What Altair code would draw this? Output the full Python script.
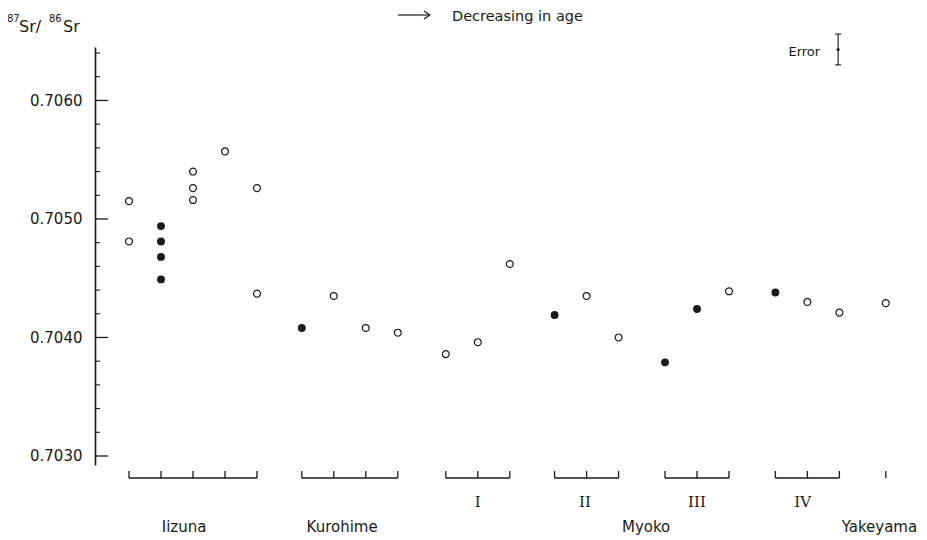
import altair as alt
import pandas as pd

# ---- data ----
# sample positions (slot units along the age sequence), 87Sr/86Sr, symbol kind
pt_x = [0, 0, 1, 1, 1, 1, 2, 2, 2, 3, 4, 4,
        5.4, 6.4, 7.4, 8.4,
        9.9, 10.9, 11.9,
        13.3, 14.3, 15.3,
        16.75, 17.75, 18.75,
        20.2, 21.2, 22.2,
        23.65]
pt_y = [0.70515, 0.70481, 0.70494, 0.70481, 0.70468, 0.70449, 0.70540, 0.70526, 0.70516, 0.70557, 0.70526, 0.70437,
        0.70408, 0.70435, 0.70408, 0.70404,
        0.70386, 0.70396, 0.70462,
        0.70419, 0.70435, 0.70400,
        0.70379, 0.70424, 0.70439,
        0.70438, 0.70430, 0.70421,
        0.70429]
pt_kind = ["open", "open", "filled", "filled", "filled", "filled", "open", "open", "open", "open", "open", "open",
           "filled", "open", "open", "open",
           "open", "open", "open",
           "filled", "open", "open",
           "filled", "filled", "open",
           "filled", "open", "open",
           "open"]

bracket_names = ["Iizuna", "Kurohime", "I", "II", "III", "IV", "Yakeyama"]
bracket_pos = [[0, 1, 2, 3, 4], [5.4, 6.4, 7.4, 8.4], [9.9, 10.9, 11.9],
               [13.3, 14.3, 15.3], [16.75, 17.75, 18.75], [20.2, 21.2, 22.2], [23.65]]

sub_labels = ["I", "II", "III", "IV"]
sub_x = [10.9, 14.25, 17.75, 21.05]
region_labels = ["Iizuna", "Kurohime", "Myoko", "Yakeyama"]
region_x = [1.72, 6.66, 16.16, 23.45]

major_ticks = [0.7030, 0.7040, 0.7050, 0.7060]
minor_ticks = [0.7032, 0.7034, 0.7036, 0.7038, 0.7042, 0.7044, 0.7046, 0.7048,
               0.7052, 0.7054, 0.7056, 0.7058, 0.7062, 0.7064]

err_x = [22.16]
err_center = [0.70643]
err_lo = [0.70630]
err_hi = [0.70656]

# ---- tables ----
pts = pd.DataFrame({"x": pt_x, "y": pt_y, "kind": pt_kind})
open_df = pts[pts["kind"] == "open"]
filled_df = pts[pts["kind"] == "filled"]
br_lines = pd.DataFrame({"name": bracket_names,
                         "start": [p[0] for p in bracket_pos],
                         "end": [p[-1] for p in bracket_pos]})
br_ticks = pd.DataFrame({"pos": [v for p in bracket_pos for v in p]})
subs = pd.DataFrame({"x": sub_x, "label": sub_labels})
regions = pd.DataFrame({"x": region_x, "label": region_labels})
majors = pd.DataFrame({"v": major_ticks})
minors = pd.DataFrame({"v": minor_ticks})
err = pd.DataFrame({"x": err_x, "c": err_center, "lo": err_lo, "hi": err_hi})
one = pd.DataFrame({"t": ["Decreasing in age"]})

XS = alt.Scale(domain=[-1.0625, 24.5625], nice=False, zero=False)
YS = alt.Scale(domain=[0.702924, 0.706451], nice=False, zero=False)
INK = "#1a1a1a"
FONT = "DejaVu Sans"

base_axis = alt.Axis(values=major_ticks, format=".4f", ticks=False, tickSize=0, grid=False,
                     domainColor=INK, domainWidth=1.6, labelFont=FONT, labelFontSize=15,
                     labelColor=INK, labelPadding=13, title=None)

open_pts = alt.Chart(open_df).mark_point(
    shape="circle", filled=False, color=INK, strokeWidth=1.2, size=48, opacity=1
).encode(x=alt.X("x:Q", scale=XS, axis=None), y=alt.Y("y:Q", scale=YS, axis=base_axis))

filled_pts = alt.Chart(filled_df).mark_circle(
    color=INK, size=62, opacity=1
).encode(x=alt.X("x:Q", scale=XS, axis=None), y=alt.Y("y:Q", scale=YS, axis=base_axis))

major_rules = alt.Chart(majors).mark_rule(color=INK, strokeWidth=1.3).encode(
    y=alt.Y("v:Q", scale=YS, axis=base_axis), x=alt.value(0), x2=alt.value(13))
minor_rules = alt.Chart(minors).mark_rule(color=INK, strokeWidth=1.1).encode(
    y=alt.Y("v:Q", scale=YS, axis=base_axis), x=alt.value(0), x2=alt.value(5))

bracket_lines = alt.Chart(br_lines).mark_rule(color=INK, strokeWidth=1.3).encode(
    x=alt.X("start:Q", scale=XS, axis=None), x2="end:Q", y=alt.value(431))
bracket_ticks = alt.Chart(br_ticks).mark_rule(color=INK, strokeWidth=1.3).encode(
    x=alt.X("pos:Q", scale=XS, axis=None), y=alt.value(424), y2=alt.value(431))

sub_text = alt.Chart(subs).mark_text(font="DejaVu Serif", fontSize=15, color=INK,
                                     baseline="middle", align="center").encode(
    x=alt.X("x:Q", scale=XS, axis=None), y=alt.value(455), text="label:N")
region_text = alt.Chart(regions).mark_text(font=FONT, fontSize=15, color=INK,
                                           baseline="middle", align="center").encode(
    x=alt.X("x:Q", scale=XS, axis=None), y=alt.value(480), text="label:N")

err_rule = alt.Chart(err).mark_rule(color=INK, strokeWidth=1.1).encode(
    x=alt.X("x:Q", scale=XS, axis=None), y=alt.Y("lo:Q", scale=YS, axis=base_axis), y2="hi:Q")
err_lo_cap = alt.Chart(err).mark_tick(orient="horizontal", size=6, thickness=1.1, color=INK, opacity=1).encode(
    x=alt.X("x:Q", scale=XS, axis=None), y=alt.Y("lo:Q", scale=YS, axis=base_axis))
err_hi_cap = alt.Chart(err).mark_tick(orient="horizontal", size=6, thickness=1.1, color=INK, opacity=1).encode(
    x=alt.X("x:Q", scale=XS, axis=None), y=alt.Y("hi:Q", scale=YS, axis=base_axis))
err_dot = alt.Chart(err).mark_circle(color=INK, size=10, opacity=1).encode(
    x=alt.X("x:Q", scale=XS, axis=None), y=alt.Y("c:Q", scale=YS, axis=base_axis))
err_text = alt.Chart(err).mark_text(text="Error", font=FONT, fontSize=13, color=INK,
                                    align="right", baseline="middle", dx=-18, dy=3).encode(
    x=alt.X("x:Q", scale=XS, axis=None), y=alt.Y("c:Q", scale=YS, axis=base_axis))

top_text = alt.Chart(one).mark_text(font=FONT, fontSize=14.5, color=INK, align="left", baseline="middle").encode(
    x=alt.value(357), y=alt.value(-30), text="t:N")
arrow_shaft = alt.Chart(one).mark_rule(color=INK, strokeWidth=1.2).encode(
    x=alt.value(303), x2=alt.value(335), y=alt.value(-32))
arrow_h1 = alt.Chart(one).mark_rule(color=INK, strokeWidth=1.2).encode(
    x=alt.value(329), x2=alt.value(335), y=alt.value(-36), y2=alt.value(-32))
arrow_h2 = alt.Chart(one).mark_rule(color=INK, strokeWidth=1.2).encode(
    x=alt.value(329), x2=alt.value(335), y=alt.value(-28), y2=alt.value(-32))


def label(txt, px, py, fs):
    return alt.Chart(one).mark_text(text=txt, font=FONT, fontSize=fs, color=INK,
                                    align="left", baseline="alphabetic").encode(
        x=alt.value(px), y=alt.value(py))


ytitle = [label("87", -88, -25, 10), label("Sr/", -76, -15, 16),
          label("86", -46, -25, 10), label("Sr", -32, -15, 16)]

chart = alt.layer(
    bracket_lines, bracket_ticks, major_rules, minor_rules,
    open_pts, filled_pts,
    err_rule, err_lo_cap, err_hi_cap, err_dot, err_text,
    sub_text, region_text, top_text, arrow_shaft, arrow_h1, arrow_h2, *ytitle,
).properties(
    width=820, height=418,
    autosize=alt.AutoSizeParams(type="none"),
    padding={"left": 87, "top": 39, "right": 4, "bottom": 72},
    background="white",
).configure_view(stroke=None)

chart.save("out.html", embed_options={"renderer": "svg", "actions": False})
